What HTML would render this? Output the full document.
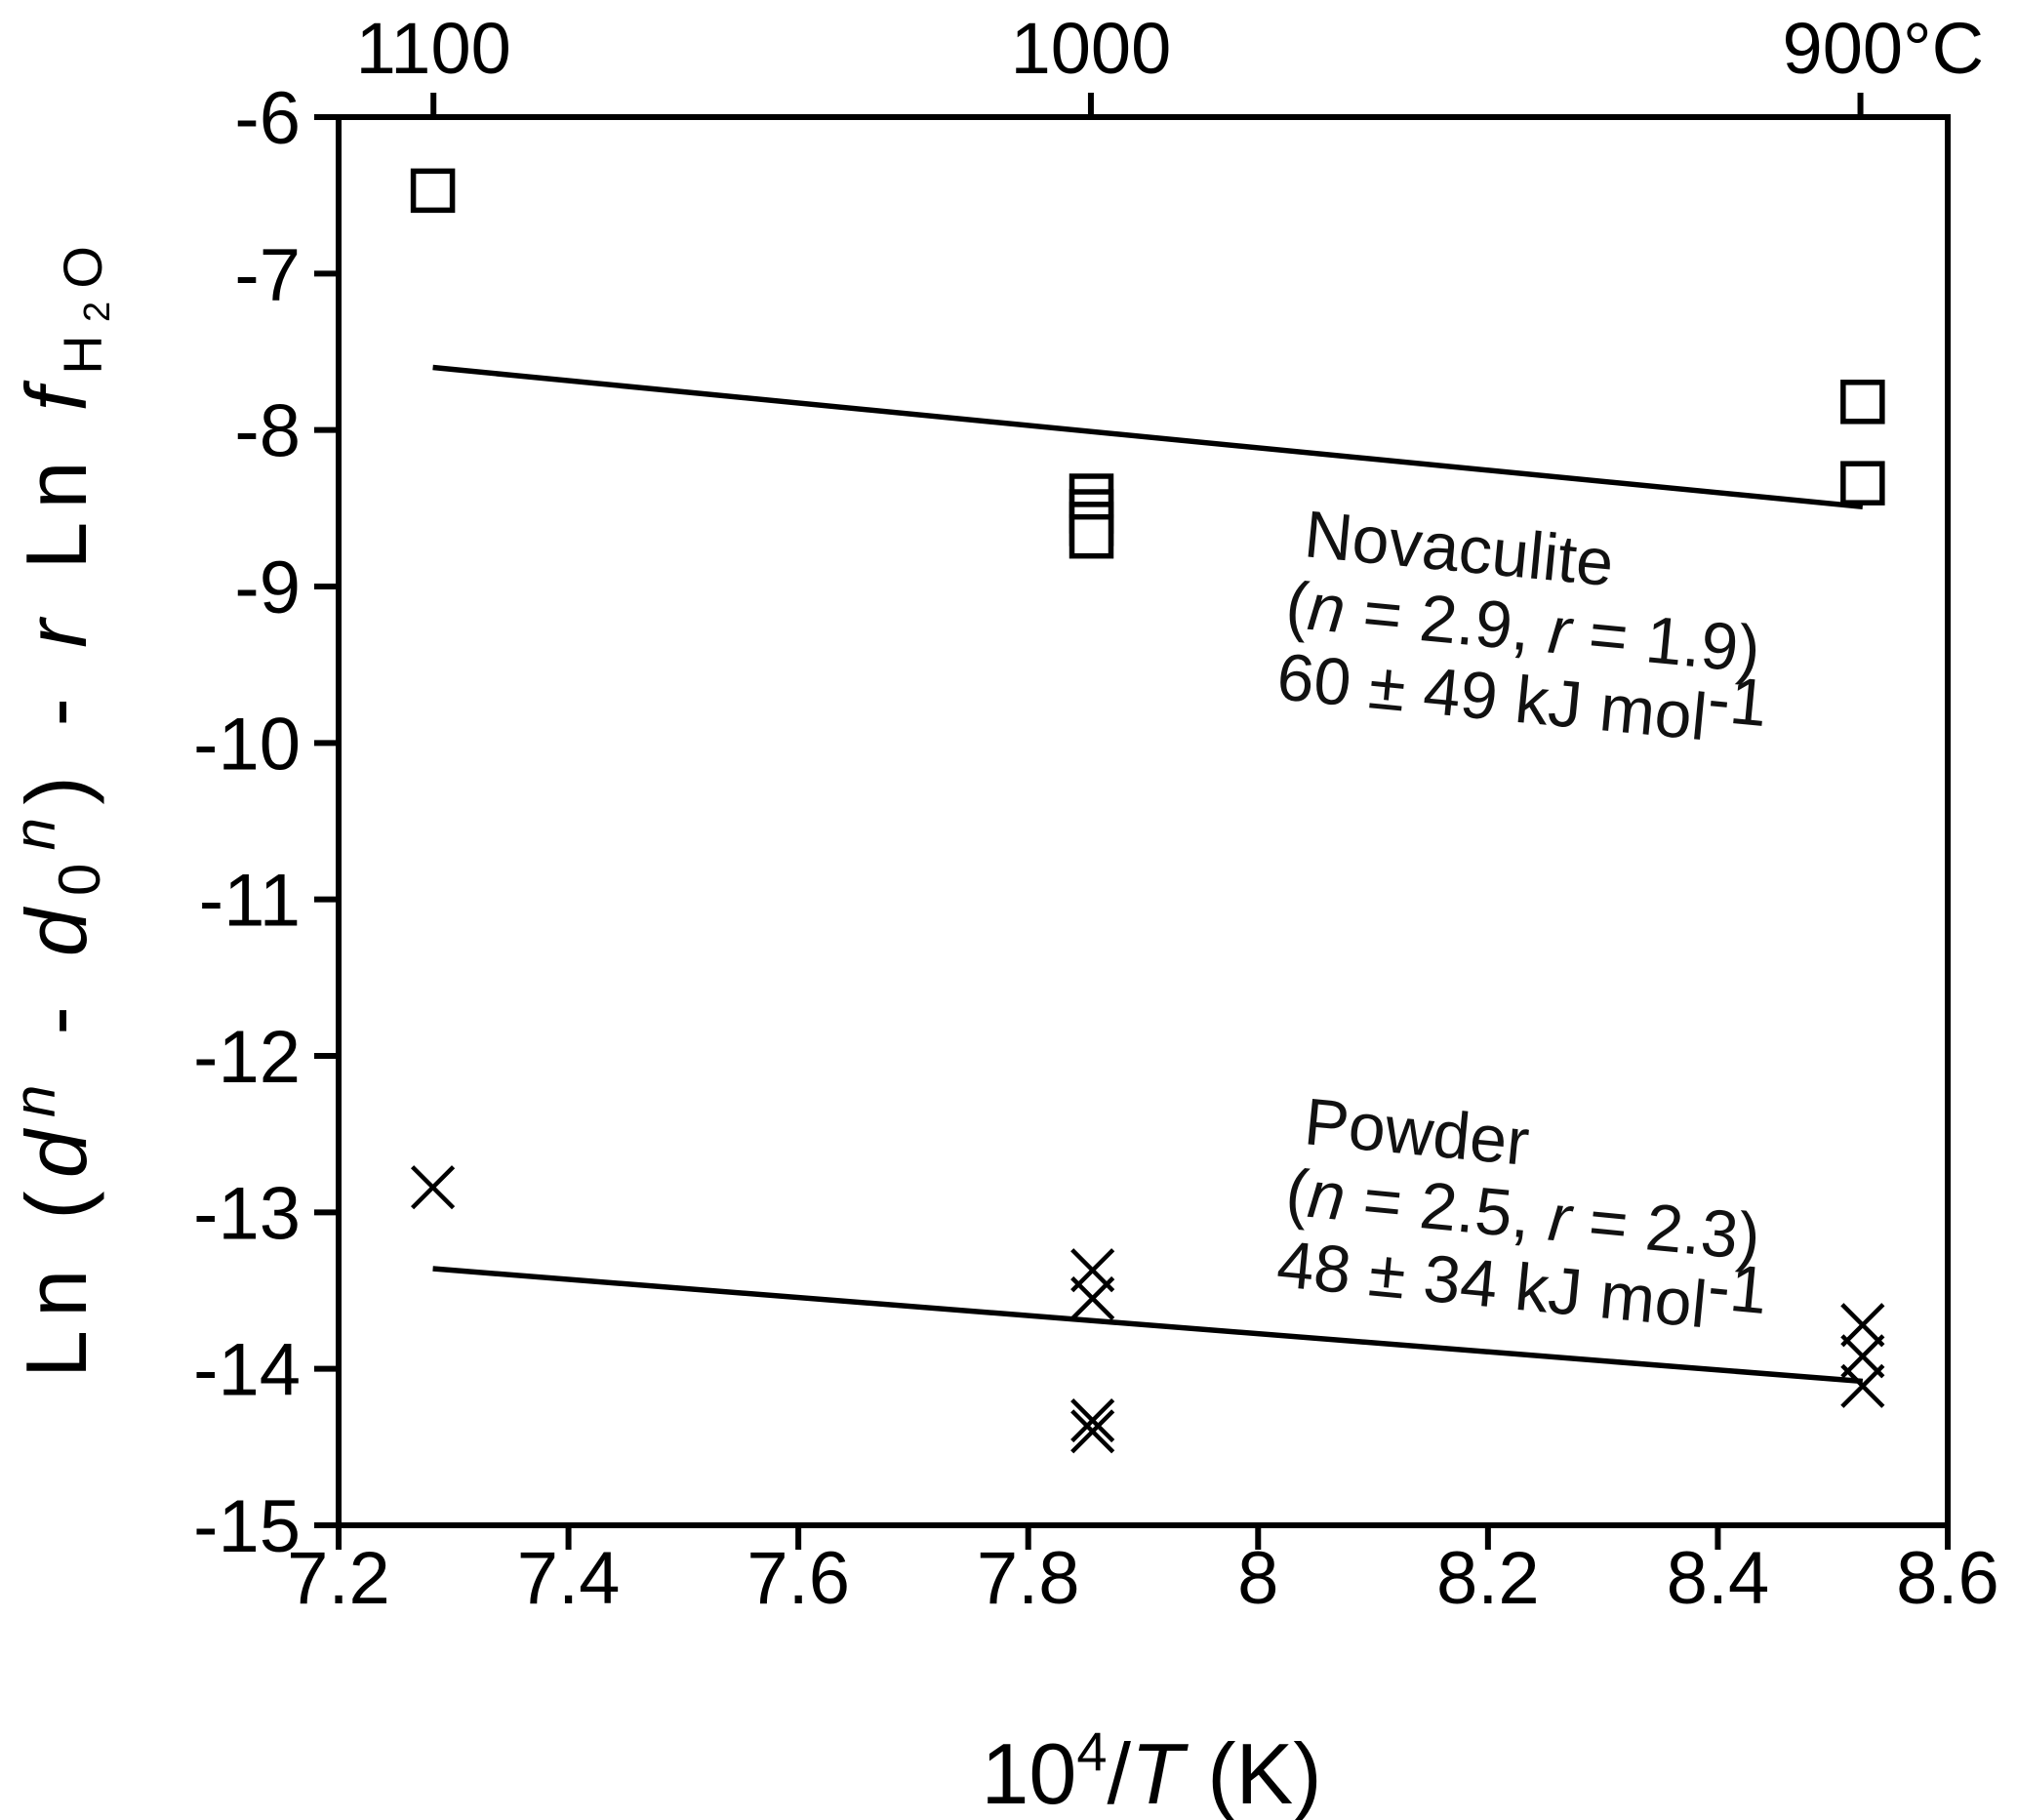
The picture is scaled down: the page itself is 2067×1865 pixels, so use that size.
<!DOCTYPE html>
<html><head><meta charset="utf-8"><style>
body{margin:0;background:#fff}
svg{display:block;font-family:"Liberation Sans",Arial,sans-serif}
</style></head><body>
<svg id="chart" width="2067" height="1865" viewBox="0 0 2067 1865" xmlns="http://www.w3.org/2000/svg">
<g id="axes"></g>
<g id="marks"></g>
<g transform="translate(1335,570) rotate(5.5)" font-size="68" fill="#111">
<text x="0" y="0">Novaculite</text>
<text x="-12" y="74">(<tspan font-style="italic">n</tspan> = 2.9, <tspan font-style="italic">r</tspan> = 1.9)</text>
<text x="-14" y="148">60 ± 49 kJ mol<tspan dy="-20">-1</tspan></text>
</g>
<g transform="translate(1335,1172) rotate(5.5)" font-size="68" fill="#111">
<text x="0" y="0">Powder</text>
<text x="-12" y="74">(<tspan font-style="italic">n</tspan> = 2.5, <tspan font-style="italic">r</tspan> = 2.3)</text>
<text x="-14" y="148">48 ± 34 kJ mol<tspan dy="-20">-1</tspan></text>
</g>
<text x="1180" y="1848" font-size="88" text-anchor="middle">10<tspan dy="-34" font-size="56">4</tspan><tspan dy="34">/</tspan><tspan font-style="italic">T</tspan> (K)</text>
<text transform="translate(88,832) rotate(-90)" font-size="88" text-anchor="middle" textLength="1160" lengthAdjust="spacing">Ln (<tspan font-style="italic">d</tspan><tspan dy="-32" font-size="60" font-style="italic">n</tspan><tspan dy="32"> - </tspan><tspan font-style="italic">d</tspan><tspan dy="14" font-size="60">0</tspan><tspan dy="-46" font-size="60" font-style="italic">n</tspan><tspan dy="32">) - </tspan><tspan font-style="italic">r</tspan> Ln <tspan font-style="italic">f</tspan><tspan dy="16" font-size="56">H</tspan><tspan font-size="38" dy="8">2</tspan><tspan font-size="56" dy="-8">O</tspan></text>
</svg>
<script>
const xTicks = [7.2, 7.4, 7.6, 7.8, 8.0, 8.2, 8.4, 8.6];
const xTickLabels = ["7.2", "7.4", "7.6", "7.8", "8", "8.2", "8.4", "8.6"];
const yTicks = [-6, -7, -8, -9, -10, -11, -12, -13, -14, -15];
const topTicksC = [1100, 1000, 900];
const topTickLabels = ["1100", "1000", "900°C"];
const novX = [7.282, 8.526, 8.526, 7.855, 7.855, 7.855, 7.855];
const novY = [-6.47, -7.82, -8.34, -8.42, -8.52, -8.60, -8.68];
const powX = [7.282, 7.856, 7.856, 7.856, 7.856, 8.526, 8.526, 8.526];
const powY = [-12.84, -13.37, -13.55, -14.33, -14.40, -13.72, -13.92, -14.11];
const novFitX = [7.282, 8.526];
const novFitY = [-7.60, -8.49];
const powFitX = [7.282, 8.526];
const powFitY = [-13.36, -14.08];

const L = 347, R = 1996, T = 120, B = 1563;
const xMin = 7.2, xMax = 8.6, yMin = -15, yMax = -6;
function sx(v){ return L + (v - xMin) / (xMax - xMin) * (R - L); }
function sy(v){ return B - (v - yMin) / (yMax - yMin) * (B - T); }
const NS = "http://www.w3.org/2000/svg";
function mk(tag, attrs, parent){
  const e = document.createElementNS(NS, tag);
  for (const k in attrs) e.setAttribute(k, attrs[k]);
  parent.appendChild(e);
  return e;
}
const axes = document.getElementById('axes');
const marks = document.getElementById('marks');

let frame = mk('rect', {x:L, y:T, width:R-L, height:B-T, fill:'none', stroke:'#000', 'stroke-width':6}, axes);



xTicks.forEach((v, i) => {
  const t = mk('line', {x1:sx(v), x2:sx(v), y1:B, y2:B+25, stroke:'#000', 'stroke-width':6}, axes);
  
  
  const lb = mk('text', {x:sx(v), y:1643, 'font-size':76, 'text-anchor':'middle'}, axes);
  lb.textContent = xTickLabels[i];
  
  
});
yTicks.forEach(v => {
  const t = mk('line', {x1:L-25, x2:L, y1:sy(v), y2:sy(v), stroke:'#000', 'stroke-width':6}, axes);
  
  
  const lb = mk('text', {x:308, y:sy(v)+27, 'font-size':76, 'text-anchor':'end'}, axes);
  lb.textContent = String(v);
  
  
});
topTicksC.forEach((c, i) => {
  const x = sx(1e4 / (c + 273.15));
  const t = mk('line', {x1:x, x2:x, y1:T-25, y2:T, stroke:'#000', 'stroke-width':6}, axes);
  
  
  const lb = mk('text', {x: i === 2 ? x - 80 : x, y:75, 'font-size':74, 'text-anchor': i === 2 ? 'start' : 'middle'}, axes);
  lb.textContent = topTickLabels[i];
  
  
});

let nl = mk('line', {x1:sx(novFitX[0]), y1:sy(novFitY[0]), x2:sx(novFitX[1]), y2:sy(novFitY[1]), stroke:'#000', 'stroke-width':5.5}, marks);


let pl = mk('line', {x1:sx(powFitX[0]), y1:sy(powFitY[0]), x2:sx(powFitX[1]), y2:sy(powFitY[1]), stroke:'#000', 'stroke-width':5.5}, marks);



const S = 40;
novX.forEach((v, i) => {
  const r = mk('rect', {x:sx(v)-S/2, y:sy(novY[i])-S/2, width:S, height:S, fill:'#fff', stroke:'#000', 'stroke-width':5.5}, marks);
  
  
});
powX.forEach((v, i) => {
  const cx = sx(v), cy = sy(powY[i]), h = 21;
  const p = mk('path', {d:`M${cx-h},${cy-h}L${cx+h},${cy+h}M${cx-h},${cy+h}L${cx+h},${cy-h}`, stroke:'#000', 'stroke-width':4.5, fill:'none'}, marks);
  
  
});
</script>
</body></html>
